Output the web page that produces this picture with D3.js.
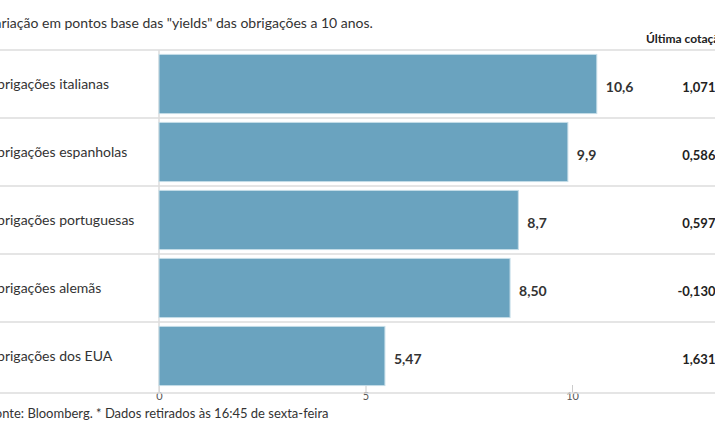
<!DOCTYPE html>
<html>
<head>
<meta charset="utf-8">
<script src="https://cdn.jsdelivr.net/npm/d3@7"></script>
<style>
  body { margin: 0; background: #fff; }
  text { font-family: Lato, "Open Sans", sans-serif; }
</style>
</head>
<body>
<svg id="plot" width="715" height="445"></svg>
<script>
const svg = d3.select('#plot');

// Data
const categories = ['Obrigações italianas', 'Obrigações espanholas', 'Obrigações portuguesas', 'Obrigações alemãs', 'Obrigações dos EUA'];
const values = [10.6, 9.9, 8.7, 8.50, 5.47];
const valueLabels = ['10,6', '9,9', '8,7', '8,50', '5,47'];
const lastQuotes = ['1,0713', '0,5860', '0,5970', '-0,1300', '1,6318'];
const xTicks = [0, 5, 10];

const xScale = d3.scaleLinear()
    .domain([0, 10])
    .range([159, 572]);

const yScale = d3.scaleBand()
    .domain(categories)
    .range([50, 390])
    .paddingInner(0.13)
    .paddingOuter(0.065);

const rowScale = d3.scaleBand()
    .domain(categories)
    .range([50, 390]);

// title
svg.append('text')
    .attr('x', -14).attr('y', 28)
    .attr('font-size', 14).attr('fill', '#333')
    .text('Variação em pontos base das "yields" das obrigações a 10 anos.');

svg.append('text')
    .attr('x', 646).attr('y', 43)
    .attr('font-size', 12).attr('font-weight', 'bold').attr('fill', '#222')
    .text('Última cotação');

// row separators
svg.selectAll('line.row').data(categories)
    .enter().append('line')
    .attr('x1', 0).attr('x2', 715)
    .attr('y1', d => rowScale(d)).attr('y2', d => rowScale(d))
    .attr('stroke', '#ddd').attr('stroke-width', 1.5);

// axis
const xAxisG = svg.append('g')
    .attr('transform', 'translate(0, 393)')
    .call(d3.axisBottom(xScale).tickValues(xTicks).tickSize(-8).tickPadding(4));
xAxisG.select('.domain').remove();
xAxisG.selectAll('line').attr('stroke', '#ccc');
xAxisG.selectAll('text').attr('fill', '#555').attr('font-size', 11).attr('dy', '0.3em')
    .style('font-family', 'Lato, sans-serif');

svg.append('line')
    .attr('x1', 0).attr('x2', 715).attr('y1', 393).attr('y2', 393)
    .attr('stroke', '#ddd').attr('stroke-width', 1.5);
svg.append('line')
    .attr('x1', xScale(0)).attr('x2', xScale(0)).attr('y1', 50).attr('y2', 393)
    .attr('stroke', '#ddd').attr('stroke-width', 1.5);

// bars
svg.selectAll('rect.bar').data(values)
    .enter().append('rect')
    .attr('x', xScale(0))
    .attr('y', (d, i) => yScale(categories[i]))
    .attr('width', d => xScale(d) - xScale(0))
    .attr('height', yScale.bandwidth())
    .attr('fill', '#6aa3bf')
    .attr('stroke', '#c5dde8').attr('stroke-width', 1);

// category labels
svg.selectAll('text.cat').data(categories)
    .enter().append('text')
    .attr('x', -14)
    .attr('y', d => rowScale(d) + rowScale.bandwidth() / 2)
    .attr('dy', '0.35em')
    .attr('font-size', 14).attr('fill', '#333')
    .text(d => d);

// value labels
svg.selectAll('text.val').data(values)
    .enter().append('text')
    .attr('x', d => xScale(d) + 9)
    .attr('y', (d, i) => rowScale(categories[i]) + rowScale.bandwidth() / 2 + 3)
    .attr('dy', '0.35em')
    .attr('font-size', 14).attr('font-weight', 'bold').attr('fill', '#333')
    .text((d, i) => valueLabels[i]);

// last quote
svg.selectAll('text.quote').data(lastQuotes)
    .enter().append('text')
    .attr('x', 723)
    .attr('text-anchor', 'end')
    .attr('y', (d, i) => rowScale(categories[i]) + rowScale.bandwidth() / 2 + 3)
    .attr('dy', '0.35em')
    .attr('font-size', 13).attr('font-weight', 'bold').attr('fill', '#222')
    .text(d => d);

// footer
svg.append('text')
    .attr('x', -12).attr('y', 418)
    .attr('font-size', 13).attr('fill', '#333')
    .text('Fonte: Bloomberg.  * Dados retirados às 16:45 de sexta-feira');
</script>
</body>
</html>
